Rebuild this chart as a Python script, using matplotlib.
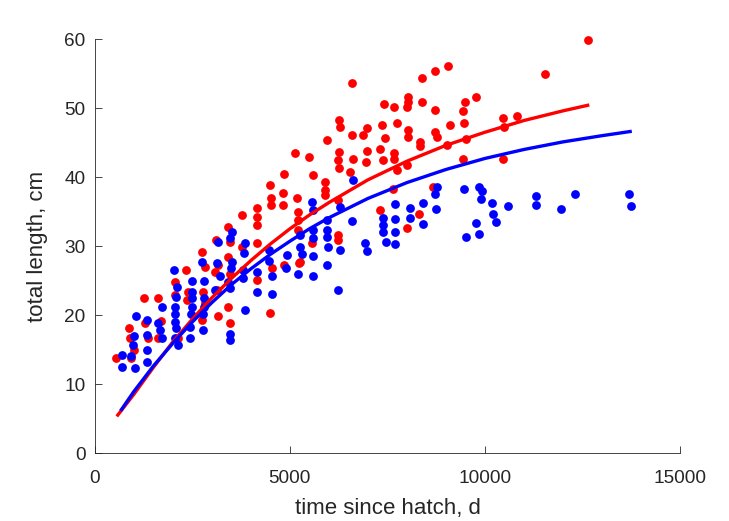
import matplotlib
matplotlib.use("Agg")
import matplotlib.pyplot as plt

# red group: time since hatch (d), total length (cm)
red_t = [556, 879, 897, 1008, 941, 1264, 1623, 1282, 1367, 1692, 1623, 2136,
         2051, 2051, 2333, 2392, 2351, 2820, 2777, 2736, 2736, 3102, 3162, 3120,
         3162, 3419, 3461, 3419, 3461, 3419, 3461, 3761, 3761, 4146, 4146, 4146,
         4146, 4146, 4487, 5128, 5495, 4846, 5582, 4487, 4813, 4505, 4505, 4813,
         5171, 5897, 5897, 5213, 5213, 5213, 4530, 4846, 5238, 6582, 7410, 7675,
         6264, 6282, 5956, 6582, 6880, 6966, 7350, 7735, 7436, 6264, 6239, 6264,
         6624, 6966, 6940, 7308, 7393, 7675, 7675, 7735, 7992, 6538, 5897, 6239,
         7308, 7992, 6239, 6239, 5556, 5256, 8376, 8718, 9059, 8033, 8033, 8008,
         8376, 8718, 9487, 9769, 9444, 9461, 9102, 8033, 8033, 8333, 8333, 8718,
         8761, 9017, 9513, 9427, 7649, 8674, 8315, 12632, 11546, 10469, 10828,
         10495, 10469, 2820, 3077]
red_len = [13.7, 18.1, 16.6, 14.9, 13.7, 22.4, 22.4, 18.9, 16.6, 19.2, 16.6, 16.6,
           24.8, 22.9, 26.5, 23.4, 22.2, 27.0, 23.4, 19.3, 29.2, 30.9, 27.2, 23.6,
           19.8, 32.8, 30.6, 28.4, 26.0, 21.2, 18.8, 34.5, 29.9, 35.5, 34.2, 33.0,
           30.4, 25.1, 20.3, 43.5, 42.9, 40.5, 40.3, 38.9, 37.7, 36.9, 35.9, 35.9,
           36.9, 39.3, 38.1, 35.0, 33.8, 32.3, 26.8, 27.2, 27.5, 53.7, 50.6, 50.1,
           48.3, 47.3, 45.4, 46.1, 46.1, 47.1, 47.5, 47.8, 45.6, 43.7, 42.5, 41.3,
           42.6, 43.8, 42.2, 44.0, 42.5, 43.5, 42.6, 41.0, 41.7, 40.8, 37.4, 36.7,
           35.2, 32.6, 31.6, 30.9, 30.5, 27.7, 54.4, 55.4, 56.1, 51.6, 50.9, 50.1,
           50.9, 49.7, 50.9, 51.6, 49.6, 47.8, 47.5, 46.8, 45.8, 45.1, 44.5, 46.6,
           45.8, 44.7, 45.5, 42.6, 38.2, 38.5, 34.7, 59.8, 54.9, 48.6, 48.8,
           47.2, 42.6, 21.7, 26.3]

# blue group
blue_t = [685, 685, 923, 1026, 1044, 1008, 982, 1326, 1326, 1326, 1326, 1710,
          1608, 1667, 1710, 2033, 2095, 2069, 2051, 2051, 2051, 2069, 2051, 2120,
          2436, 2495, 2495, 2495, 2495, 2461, 2436, 2751, 2802, 2802, 2802, 2777,
          2777, 3162, 3120, 3205, 3077, 3505, 3461, 3505, 3487, 3419, 3461, 3846,
          3820, 3802, 3802, 3846, 4146, 4146, 4470, 4470, 3461, 3461, 5556, 5582,
          5940, 5940, 5940, 5597, 5597, 5256, 5256, 5299, 4915, 4897, 4530, 4530,
          5213, 5597, 5940, 6282, 6239, 6607, 6282, 6582, 5982, 5597, 6923, 6966,
          7376, 7376, 7376, 7461, 7692, 7692, 7692, 7692, 8076, 8076, 8761, 8718,
          8743, 8418, 8418, 9461, 9854, 9915, 9889, 10171, 10197, 10282, 9761,
          9846, 9513, 10581, 11300, 11300, 11949, 12308, 13692, 13743]
blue_len = [14.2, 12.5, 14.0, 12.3, 19.8, 16.9, 15.7, 19.3, 17.1, 14.9, 13.2, 21.2,
            18.8, 17.8, 16.6, 26.5, 24.1, 22.6, 21.2, 20.2, 19.0, 18.1, 16.6, 15.7,
            16.6, 25.0, 23.4, 22.4, 21.2, 20.2, 18.3, 27.7, 25.0, 22.4, 21.2, 20.2,
            17.8, 30.6, 27.5, 25.6, 23.6, 32.1, 31.1, 27.7, 26.8, 24.8, 23.9, 30.4,
            29.0, 26.5, 25.3, 20.7, 26.3, 23.4, 29.4, 27.9, 17.3, 16.4, 36.4, 35.2,
            33.8, 32.3, 31.3, 32.3, 31.1, 31.6, 29.9, 28.9, 28.7, 26.8, 25.6, 23.1,
            26.0, 25.7, 27.2, 29.4, 23.6, 39.6, 35.7, 33.7, 29.9, 28.5, 30.5, 29.3,
            34.0, 33.0, 32.1, 30.6, 36.1, 33.9, 32.1, 30.3, 35.5, 34.0, 38.5, 37.6,
            35.4, 36.3, 33.2, 38.2, 38.6, 38.0, 36.8, 36.2, 34.6, 33.5, 33.4,
            31.7, 31.3, 35.8, 37.2, 35.9, 35.4, 37.6, 37.6, 35.8]

# fitted growth curves
red_fit_t = [590, 1000, 1500, 2000, 2500, 3000, 3500, 4000, 4500, 5000, 5500,
             6000, 7000, 8000, 9000, 10000, 11000, 12000, 12630]
red_fit_len = [5.5, 8.5, 12.4, 16.1, 19.4, 22.5, 25.3, 27.9, 30.3, 32.5, 34.5,
               36.3, 39.6, 42.3, 44.6, 46.5, 48.2, 49.6, 50.4]
blue_fit_t = [684, 1000, 1500, 2000, 2500, 3000, 3500, 4000, 4500, 5000, 5500,
              6000, 7000, 8000, 9000, 10000, 11000, 12000, 13000, 13718]
blue_fit_len = [6.3, 8.9, 12.6, 15.9, 19.0, 21.8, 24.4, 26.7, 28.8, 30.7, 32.5,
                34.1, 36.9, 39.2, 41.1, 42.7, 44.0, 45.1, 46.0, 46.6]

plt.rcParams['font.family'] = ['Liberation Sans', 'DejaVu Sans']

fig = plt.figure(figsize=(7.29, 5.21), dpi=100)
ax = fig.add_axes([0.130, 0.1305, 0.803, 0.7945])

ax.scatter(red_t, red_len, s=40, color=(1, 0, 0), linewidths=0, zorder=2, clip_on=False)
ax.scatter(blue_t, blue_len, s=40, color=(0, 0, 1), linewidths=0, zorder=3, clip_on=False)
ax.plot(red_fit_t, red_fit_len, color=(1, 0, 0), linewidth=2.4, zorder=4)
ax.plot(blue_fit_t, blue_fit_len, color=(0, 0, 1), linewidth=2.4, zorder=5)

ax.set_xlim(0, 15000)
ax.set_ylim(0, 60)
ax.set_xticks([0, 5000, 10000, 15000])
ax.set_yticks([0, 10, 20, 30, 40, 50, 60])

gray = (0.15, 0.15, 0.15)
for side in ['top', 'right']:
    ax.spines[side].set_visible(False)
for side in ['left', 'bottom']:
    ax.spines[side].set_color(gray)
    ax.spines[side].set_linewidth(0.6)
ax.tick_params(direction='in', length=4.8, width=0.6, colors=gray, labelsize=13.7)
ax.tick_params(axis='x', pad=12)
ax.tick_params(axis='y', pad=6.5)

ax.set_xlabel('time since hatch, d', fontsize=16, color=gray, labelpad=8.5)
ax.set_ylabel('total length, cm', fontsize=16, color=gray, labelpad=12)

fig.savefig('out.png', dpi=100)
